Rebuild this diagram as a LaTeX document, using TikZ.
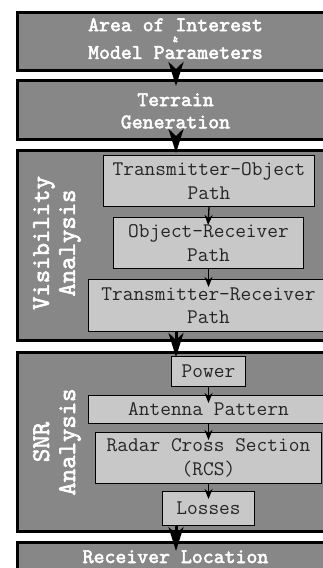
\documentclass[tikz,border=0pt]{standalone}
\usepackage{fontspec}
\newfontfamily\titlemono{lmmono10-regular.otf}[FakeBold=2.5]
\usetikzlibrary{arrows.meta}
\definecolor{outerfill}{HTML}{878787}
\definecolor{innerfill}{HTML}{C8C8C8}
\begin{document}
\begin{tikzpicture}[x=1pt,y=-1pt,
  outerbox/.style={draw=black,line width=3pt,fill=outerfill,inner sep=0pt,minimum width=317pt},
  innerbox/.style={draw=black,line width=1pt,fill=innerfill,inner sep=0pt,align=center,
    font=\fontsize{20.8}{23.5}\selectfont\ttfamily,text=black!85},
  titletext/.style={text=white,font=\fontsize{20.8}{23}\selectfont\titlemono,inner sep=0pt},
  sidelabel/.style={text=white,font=\fontsize{25.5}{26}\selectfont\titlemono,rotate=90,align=center,inner sep=0pt},
  bigarrow/.style={line width=3pt,-{Stealth[length=24pt,width=15pt,inset=7pt]}},
  smallarrow/.style={line width=1.3pt,-{Stealth[length=10pt,width=8pt,inset=3pt]},shorten >=-8pt}]
\useasboundingbox (0,0) rectangle (323,568);
\clip (0,0) rectangle (323,568);
% outer boxes
\node[outerbox,minimum height=58pt] (b1) at (176,41.5) {};
\node[outerbox,minimum height=59pt] (b2) at (176,110) {};
\node[outerbox,minimum height=190pt] (b3) at (176,245.5) {};
\node[outerbox,minimum height=179pt] (b4) at (176,442) {};
\node[outerbox,minimum height=68pt] (b5) at (176,576.5) {};
% titles
\node[titletext,anchor=base,text depth=0pt] (t1a) at (175.5,31.2) {Area of Interest};
\node[titletext,anchor=base,text height=5.5pt,text depth=0pt,font=\fontsize{9.5}{10}\selectfont\titlemono] (t1b) at (175.5,42.2) {\&};
\node[titletext,anchor=base,text height=13pt] (t1c) at (175.5,58.8) {Model Parameters};
\node[titletext,anchor=base] (t2a) at (175.5,106) {Terrain};
\node[titletext,anchor=base] (t2b) at (175.5,128.3) {Generation};
\node[titletext,anchor=base] (t5) at (175.5,563) {Receiver Location};
% side labels
\node[sidelabel] (vis) at (57,243) {Visibility\\Analysis};
\node[sidelabel] (snr) at (57,442) {SNR\\Analysis};
% inner boxes
\node[innerbox,minimum width=211pt,minimum height=51pt] (to) at (209,181) {Transmitter-Object\\Path};
\node[innerbox,minimum width=190pt,minimum height=51pt] (or) at (208.5,243) {Object-Receiver\\Path};
\node[innerbox,minimum width=240pt,minimum height=52pt] (tr) at (208.5,305.5) {Transmitter-Receiver\\Path};
\node[innerbox,minimum width=74pt,minimum height=30pt] (pw) at (208.5,371.5) {Power};
\node[innerbox,minimum width=240pt,minimum height=28pt] (ap) at (208.5,409.5) {Antenna Pattern};
\node[innerbox,minimum width=226pt,minimum height=51pt] (rcs) at (208.5,458) {Radar Cross Section\\(RCS)};
\node[innerbox,minimum width=92pt,minimum height=34pt] (ls) at (208.5,508.5) {Losses};
% big arrows
\draw[bigarrow] (b1.south) -- ([yshift=-7pt]b2.north);
\draw[bigarrow] (b2.south) -- ([yshift=2pt]b3.south |- to.north);
\draw[bigarrow] (b3.south |- tr.south) -- ([yshift=-1pt]b3.south |- pw.north);
\draw[bigarrow] (b4.south |- ls.south) -- ([yshift=-10pt]b5.north);
% small arrows
\draw[smallarrow] (to.south) -- (or.north);
\draw[smallarrow] (or.south) -- (tr.north);
\draw[smallarrow] (pw.south) -- (ap.north);
\draw[smallarrow] (ap.south) -- (rcs.north);
\draw[smallarrow] (rcs.south) -- (ls.north);
\end{tikzpicture}
\end{document}
